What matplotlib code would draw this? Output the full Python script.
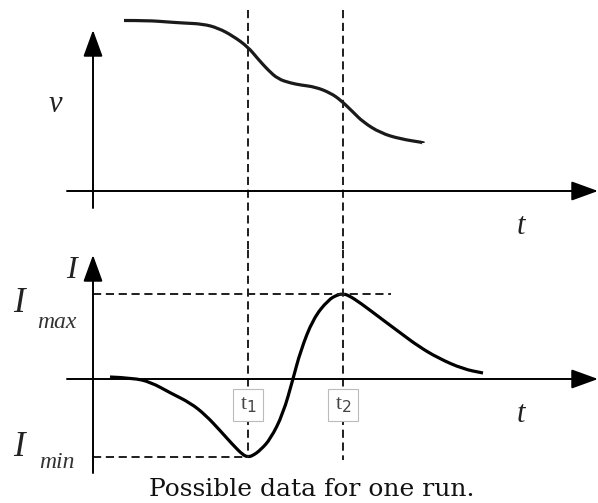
import numpy as np
import matplotlib
matplotlib.use("Agg")
import matplotlib.pyplot as plt
from matplotlib.path import Path
from matplotlib.patches import PathPatch

# time in "t units" (origin at the vertical axes)
t1 = 6.2
t2 = 10.0
t_end = 20.2

v_t = [1.24, 2.2, 3.0, 3.6, 4.4, 5.0, 5.6, 6.2, 6.6, 7.0, 7.4, 7.9, 8.3, 8.9,
       9.5, 9.9, 10.4, 10.8, 11.5, 12.3, 13.2, 13.2]
v_val = [17.05, 17.05, 16.9, 16.8, 16.7, 16.3, 15.5, 14.4, 13.2, 12.1, 11.2,
         10.8, 10.6, 10.4, 9.8, 9.1, 7.9, 6.9, 5.8, 5.2, 4.85, 4.8]

I_t = [0.68, 1.6, 2.3, 3.1, 3.9, 4.5, 5.1, 5.6, 6.0, 6.2, 6.4, 6.7, 7.1, 7.6,
       8.0, 8.3, 8.8, 9.4, 9.8, 10.0, 10.2, 10.7, 11.6, 12.3, 13.0, 13.8,
       14.8, 15.6]
I_val = [0.2, 0.1, -0.3, -1.4, -2.4, -3.6, -5.2, -6.6, -7.6, -7.8, -7.65,
         -7.1, -6.0, -3.5, 0.0, 2.8, 6.0, 7.9, 8.45, 8.5, 8.4, 7.6, 5.9, 4.6,
         3.3, 2.1, 1.0, 0.6]

I_max = 8.5
I_min = -7.8

W, H = 598, 503
fig = plt.figure(figsize=(W / 100, H / 100), dpi=100)

serif = "Liberation Serif"
lw_axis = 1.4
lw_curve = 2.3
dash = (0, (4.2, 2.4))
dash_col = "#1e1e1e"


def make_axes(bottom_px, height_px, ylim):
    ax = fig.add_axes([0, bottom_px / H, 1, height_px / H])
    ax.set_xlim(-3.72, 20.2)
    ax.set_ylim(*ylim)
    ax.axis("off")
    return ax


def arrow(ax, start, tip):
    ax.annotate("", xy=tip, xytext=start,
                arrowprops=dict(arrowstyle="-|>,head_length=1.65,head_width=0.6",
                                mutation_scale=10, lw=lw_axis, color="black",
                                shrinkA=0, shrinkB=0))


def smooth_curve(ax, xs, ys, color):
    # quadratic bezier through midpoints, control points at the read values
    pts = np.column_stack([xs, ys])
    verts = [pts[0]]
    codes = [Path.MOVETO]
    for i in range(1, len(pts) - 1):
        mid = (pts[i] + pts[i + 1]) / 2
        verts += [pts[i], mid]
        codes += [Path.CURVE3, Path.CURVE3]
    verts.append(pts[-1])
    codes.append(Path.LINETO)
    ax.add_patch(PathPatch(Path(verts, codes), fill=False, lw=lw_curve,
                           edgecolor=color, capstyle="butt"))


# ---- top panel: v(t)
ax_v = make_axes(253, 250, (-5.9, 19.1))
arrow(ax_v, (0, -1.7), (0, 16.1))
arrow(ax_v, (-1.04, 0), (t_end, 0))
smooth_curve(ax_v, v_t, v_val, "#1a1a1a")
for tt in (t1, t2):
    ax_v.plot([tt, tt], [18.1, -5.9], color=dash_col, lw=1.4, linestyle=dash)
ax_v.text(-1.5, 8.6, "v", family=serif, style="italic", fontsize=22,
          ha="center", va="center", color="#222222")
ax_v.text(17.1, -3.6, "t", family=serif, style="italic", fontsize=22,
          ha="center", va="center", color="#222222")

# ---- bottom panel: I(t)
ax_i = make_axes(0, 253, (-12.4, 12.9))
arrow(ax_i, (0, -9.4), (0, 12.4))
arrow(ax_i, (-1.04, 0), (t_end, 0))
ax_i.plot([0, 11.9], [I_max, I_max], color=dash_col, lw=1.4, linestyle=dash)
ax_i.plot([0, t1], [I_min, I_min], color=dash_col, lw=1.4, linestyle=dash)
ax_i.plot([t1, t1], [12.9, I_min], color=dash_col, lw=1.4, linestyle=dash)
ax_i.plot([t2, t2], [12.9, -8.1], color=dash_col, lw=1.4, linestyle=dash)
smooth_curve(ax_i, I_t, I_val, "black")

box = dict(boxstyle="square,pad=0.3", facecolor="white", edgecolor="#bbbbbb", lw=0.8)
for tt, lab in ((t1, "t$_1$"), (t2, "t$_2$")):
    ax_i.text(tt, -2.6, lab, family=serif, fontsize=16, color="#444444",
              ha="center", va="center", bbox=box)
ax_i.text(17.1, -3.6, "t", family=serif, style="italic", fontsize=22,
          ha="center", va="center", color="#222222")

ax_i.text(-0.85, 10.9, "I", family=serif, style="italic", fontsize=23,
          ha="center", va="center", color="#222222")
ax_i.text(-2.95, 7.6, "I", family=serif, style="italic", fontsize=25,
          ha="center", va="center", color="#222222")
ax_i.text(-1.45, 5.6, "max", family=serif, style="italic", fontsize=17,
          ha="center", va="center", color="#333333")
ax_i.text(-2.95, -6.8, "I", family=serif, style="italic", fontsize=25,
          ha="center", va="center", color="#222222")
ax_i.text(-1.45, -8.4, "min", family=serif, style="italic", fontsize=17,
          ha="center", va="center", color="#333333")

fig.text(312 / W, 1 - 489 / H, "Possible data for one run.", family="DejaVu Serif",
         fontsize=18, ha="center", va="center", color="#111111")

fig.savefig("out.png", dpi=100)
